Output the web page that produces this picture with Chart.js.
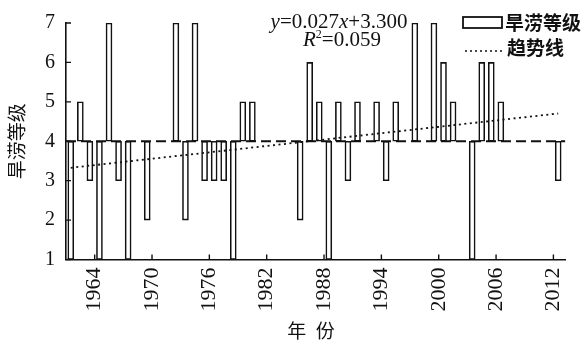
<!DOCTYPE html>
<html>
<head>
<meta charset="utf-8">
<script src="https://cdn.jsdelivr.net/npm/chart.js@4"></script>
<style>
  body { margin: 0; background: #fff; }
  #wrap { width: 588px; height: 345px; position: relative; }
</style>
</head>
<body>
<div id="wrap"><canvas id="myCanvas"></canvas></div>
<script>
// 旱涝等级 by year, 1961-2012 (4 = normal, baseline of the bars)
const years = [
  1961, 1962, 1963, 1964, 1965, 1966, 1967, 1968, 1969, 1970,
  1971, 1972, 1973, 1974, 1975, 1976, 1977, 1978, 1979, 1980,
  1981, 1982, 1983, 1984, 1985, 1986, 1987, 1988, 1989, 1990,
  1991, 1992, 1993, 1994, 1995, 1996, 1997, 1998, 1999, 2000,
  2001, 2002, 2003, 2004, 2005, 2006, 2007, 2008, 2009, 2010,
  2011, 2012,
];
const grades = [
  1, 5, 3, 1, 7, 3, 1, 4, 2, 4,
  4, 7, 2, 7, 3, 3, 3, 1, 5, 5,
  4, 4, 4, 4, 2, 6, 5, 1, 5, 3,
  5, 4, 5, 3, 5, 4, 7, 4, 7, 6,
  5, 4, 1, 6, 6, 5, 4, 4, 4, 4,
  4, 3,
];
const baseGrade = 4;
const xTicks = [1964, 1970, 1976, 1982, 1988, 1994, 2000, 2006, 2012];
const yTicks = [1, 2, 3, 4, 5, 6, 7];
const trendSlope = 0.027;
const trendIntercept = 3.3;
const trendR2 = '0.059';

const serif = '"Liberation Serif", "DejaVu Serif", serif';
const cjk = '"Noto Sans CJK SC", sans-serif';

const barData = years.map((yr, i) => ({ x: yr + 0.5, y: [baseGrade, grades[i]] }));
const trendData = [
  { x: years[0] + 0.5, y: trendSlope * 1 + trendIntercept },
  { x: years[years.length - 1] + 0.5, y: trendSlope * years.length + trendIntercept },
];
const xMin = 1961, xMax = 2013.25;
const baseLine = [{ x: xMin, y: baseGrade }, { x: xMax, y: baseGrade }];

// inward tick marks, legend and the regression text
const extras = {
  id: 'extras',
  afterDraw(chart) {
    const { ctx, scales } = chart;
    const xs = scales.x, ys = scales.y;
    ctx.save();
    ctx.strokeStyle = '#111';
    ctx.lineWidth = 1.4;
    ctx.beginPath();
    yTicks.forEach((v) => {
      const py = ys.getPixelForValue(v);
      ctx.moveTo(xs.left, py);
      ctx.lineTo(xs.left + 5, py);
    });
    xTicks.forEach((v) => {
      const px = xs.getPixelForValue(v);
      ctx.moveTo(px, ys.bottom);
      ctx.lineTo(px, ys.bottom - 5);
    });
    ctx.stroke();

    // legend
    ctx.lineWidth = 1.8;
    ctx.strokeRect(463, 17, 39, 11);
    ctx.setLineDash([2, 3]);
    ctx.lineWidth = 1.6;
    ctx.beginPath();
    ctx.moveTo(465, 51);
    ctx.lineTo(502, 51);
    ctx.stroke();
    ctx.setLineDash([]);
    ctx.fillStyle = '#111';
    ctx.font = 'bold 19px ' + cjk;
    ctx.textBaseline = 'middle';
    ctx.textAlign = 'left';
    ctx.fillText('旱涝等级', 505, 23);
    ctx.fillText('趋势线', 507, 48);

    // equation
    const drawParts = (parts, cx, baseY) => {
      ctx.textBaseline = 'alphabetic';
      let w = 0;
      parts.forEach((p) => { ctx.font = p.font; w += ctx.measureText(p.t).width; });
      let x = cx - w / 2;
      parts.forEach((p) => {
        ctx.font = p.font;
        ctx.fillText(p.t, x, baseY + (p.dy || 0));
        x += ctx.measureText(p.t).width;
      });
    };
    const it = 'italic 21px ' + serif, rg = '21px ' + serif;
    drawParts([
      { t: 'y', font: it }, { t: '=0.027', font: rg },
      { t: 'x', font: it }, { t: '+3.300', font: rg },
    ], 339, 27.5);
    drawParts([
      { t: 'R', font: it }, { t: '2', font: '12px ' + serif, dy: -8 },
      { t: '=' + trendR2, font: rg },
    ], 342, 46);
    ctx.restore();
  },
};

new Chart(document.getElementById('myCanvas'), {
  type: 'bar',
  data: {
    datasets: [
      {
        type: 'line',
        label: '趋势线',
        data: trendData,
        borderColor: '#111',
        borderWidth: 1.8,
        borderDash: [2, 3.5],
        pointRadius: 0,
        order: 1,
      },
      {
        type: 'line',
        label: 'base',
        data: baseLine,
        borderColor: '#111',
        borderWidth: 1.8,
        borderDash: [10, 5],
        pointRadius: 0,
        order: 1,
      },
      {
        label: '旱涝等级',
        data: barData,
        backgroundColor: '#fff',
        borderColor: '#111',
        borderWidth: 1.6,
        borderSkipped: false,
        barThickness: 6,
        order: 2,
      },
    ],
  },
  options: {
    responsive: true,
    maintainAspectRatio: false,
    animation: false,
    layout: { padding: { left: 0, right: 8, top: 17.5, bottom: 0 } },
    plugins: { legend: { display: false }, tooltip: { enabled: false } },
    scales: {
      x: {
        type: 'linear',
        min: xMin,
        max: xMax,
        offset: false,
        afterBuildTicks: (s) => { s.ticks = xTicks.map((v) => ({ value: v })); },
        afterFit: (s) => { s.height = 85.5; },
        grid: { display: false, drawTicks: false },
        border: { display: true, color: '#111', width: 1.6 },
        ticks: {
          minRotation: 90,
          maxRotation: 90,
          padding: 8,
          color: '#111',
          font: { family: serif, size: 22 },
          callback: (v) => String(v),
        },
        title: {
          display: true,
          text: '年\u2002份\u2002',
          color: '#111',
          font: { family: cjk, size: 19 },
          padding: { top: 0, bottom: 3 },
        },
      },
      y: {
        min: 1,
        max: 7,
        afterBuildTicks: (s) => { s.ticks = yTicks.map((v) => ({ value: v })); },
        afterFit: (s) => { s.width = 66; },
        grid: { display: false, drawTicks: false },
        border: { display: true, color: '#111', width: 1.6 },
        ticks: {
          padding: 11,
          color: '#111',
          font: { family: serif, size: 20 },
        },
        title: {
          display: true,
          text: '旱涝等级',
          color: '#111',
          font: { family: cjk, size: 19 },
          padding: { top: 5, bottom: 0 },
        },
      },
    },
  },
  plugins: [extras],
});
</script>
</body>
</html>
